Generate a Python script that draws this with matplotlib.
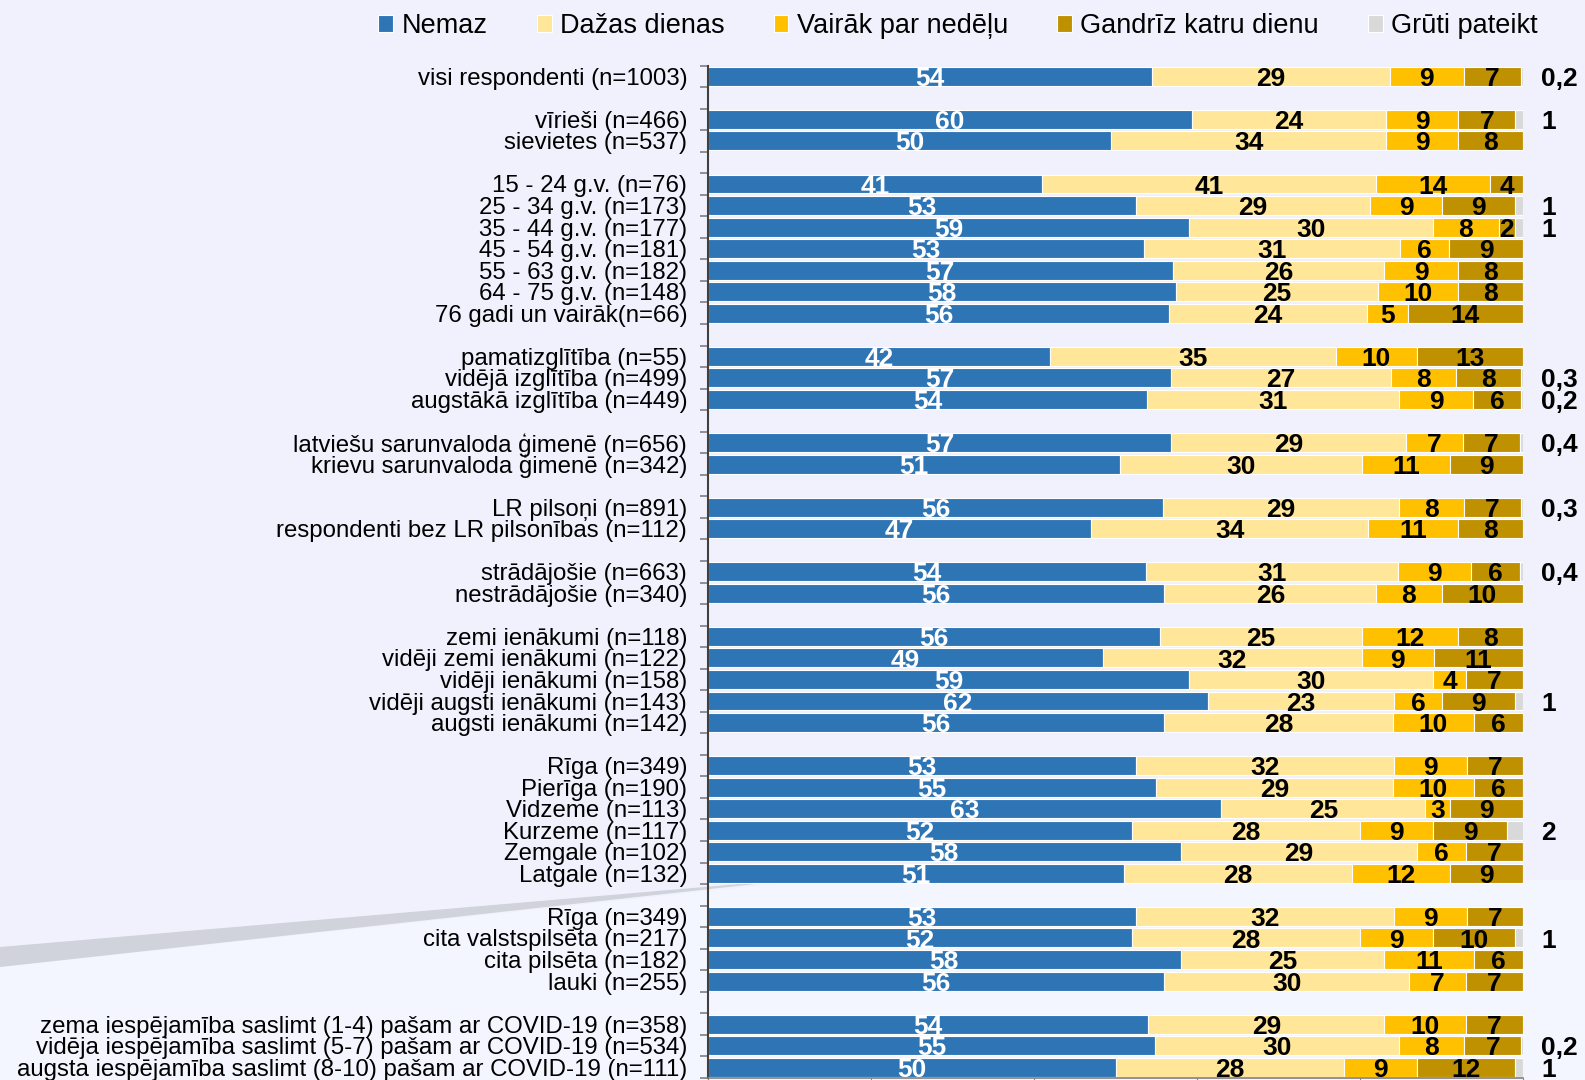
import matplotlib
matplotlib.use('Agg')
import matplotlib.pyplot as plt
import numpy as np
from matplotlib.patches import Polygon

plt.rcParams['font.family'] = ['Liberation Sans', 'DejaVu Sans']

# ---------------- data ----------------
series_names = ["Nemaz", "Dažas dienas", "Vairāk par nedēļu", "Gandrīz katru dienu", "Grūti pateikt"]
series_colors = ["#2e75b6", "#ffe699", "#ffc000", "#bf9000", "#d9d9d9"]

categories = [
    "visi respondenti (n=1003)",
    "vīrieši (n=466)", "sievietes (n=537)",
    "15 - 24 g.v. (n=76)", "25 - 34 g.v. (n=173)", "35 - 44 g.v. (n=177)",
    "45 - 54 g.v. (n=181)", "55 - 63 g.v. (n=182)", "64 - 75 g.v. (n=148)",
    "76 gadi un vairāk(n=66)",
    "pamatizglītība (n=55)", "vidējā izglītība (n=499)", "augstākā izglītība (n=449)",
    "latviešu sarunvaloda ģimenē (n=656)", "krievu sarunvaloda ģimenē (n=342)",
    "LR pilsoņi (n=891)", "respondenti bez LR pilsonības (n=112)",
    "strādājošie (n=663)", "nestrādājošie (n=340)",
    "zemi ienākumi (n=118)", "vidēji zemi ienākumi (n=122)", "vidēji ienākumi (n=158)",
    "vidēji augsti ienākumi (n=143)", "augsti ienākumi (n=142)",
    "Rīga (n=349)", "Pierīga (n=190)", "Vidzeme (n=113)", "Kurzeme (n=117)",
    "Zemgale (n=102)", "Latgale (n=132)",
    "Rīga (n=349)", "cita valstspilsēta (n=217)", "cita pilsēta (n=182)", "lauki (n=255)",
    "zema iespējamība saslimt (1-4) pašam ar COVID-19 (n=358)",
    "vidēja iespējamība saslimt (5-7) pašam ar COVID-19 (n=534)",
    "augsta iespējamība saslimt (8-10) pašam ar COVID-19 (n=111)",
]
group_sizes = [1, 2, 7, 3, 2, 2, 2, 5, 6, 4, 3]

nemaz = [54, 60, 50, 41, 53, 59, 53, 57, 58, 56, 42, 57, 54, 57, 51, 56, 47, 54, 56,
         56, 49, 59, 62, 56, 53, 55, 63, 52, 58, 51, 53, 52, 58, 56, 54, 55, 50]
dazas = [29, 24, 34, 41, 29, 30, 31, 26, 25, 24, 35, 27, 31, 29, 30, 29, 34, 31, 26,
         25, 32, 30, 23, 28, 32, 29, 25, 28, 29, 28, 32, 28, 25, 30, 29, 30, 28]
vairak = [9, 9, 9, 14, 9, 8, 6, 9, 10, 5, 10, 8, 9, 7, 11, 8, 11, 9, 8,
          12, 9, 4, 6, 10, 9, 10, 3, 9, 6, 12, 9, 9, 11, 7, 10, 8, 9]
gandriz = [7, 7, 8, 4, 9, 2, 9, 8, 8, 14, 13, 8, 6, 7, 9, 7, 8, 6, 10,
           8, 11, 7, 9, 6, 7, 6, 9, 9, 7, 9, 7, 10, 6, 7, 7, 7, 12]
gruti = [0.2, 1, 0, 0, 1, 1, 0, 0, 0, 0, 0, 0.3, 0.2, 0.4, 0, 0.3, 0, 0.4, 0,
         0, 0, 0, 1, 0, 0, 0, 0, 2, 0, 0, 0, 1, 0, 0, 0, 0.2, 1]

# ---------------- figure ----------------
W, H = 1585, 1080
fig = plt.figure(figsize=(W / 100, H / 100), dpi=100)
fig.patch.set_facecolor('#f0f1fc')

bg = fig.add_axes([0, 0, 1, 1], zorder=-10)
bg.set_xlim(0, W)
bg.set_ylim(H, 0)
bg.axis('off')
bg.add_patch(Polygon([(0, 967), (810, 880), (W, 880), (W, H), (0, H)], color='#f3f6fe', lw=0))
bg.add_patch(Polygon([(0, 947), (810, 878), (0, 967)], color='#d0d3db', lw=0))

ax = fig.add_axes([708 / W, 2 / H, 815 / W, (1078 - 65.5) / H])
ax.patch.set_alpha(0)

# row positions with a blank row after each group
pos = []
r = 0
for g in group_sizes:
    for _ in range(g):
        pos.append(r)
        r += 1
    r += 1
pos = np.array(pos)
last = pos[-1]

data = np.array([nemaz, dazas, vairak, gandriz, gruti], dtype=float)
shares = data / data.sum(axis=0) * 100

left = np.zeros(len(categories))
handles = []
for i in range(5):
    h = ax.barh(pos, shares[i], left=left, height=0.88, color=series_colors[i],
                edgecolor='white', linewidth=0.8, label=series_names[i])
    handles.append(h)
    if i < 4:
        for y, l, w, v in zip(pos, left, shares[i], data[i]):
            if v > 0:
                ax.text(l + w / 2, y + 0.12, f"{int(v)}", ha='center', va='center',
                        fontsize=19, fontweight='bold',
                        color='white' if i == 0 else 'black')
    left = left + shares[i]

for y, v in zip(pos, gruti):
    if v > 0:
        s = f"{int(v)}" if float(v).is_integer() else f"{v}".replace('.', ',')
        ax.text(102.2, y + 0.12, s, ha='left', va='center', fontsize=19,
                fontweight='bold', color='black', clip_on=False)

ax.set_xlim(0, 100)
ax.set_ylim(last + 0.5, -0.5)
ax.set_yticks(pos)
ax.set_yticklabels(categories, fontsize=17.3)
ax.set_yticks(np.arange(-0.5, last + 1, 1), minor=True)
ax.tick_params(axis='y', which='major', length=0, pad=15)
ax.tick_params(axis='y', which='minor', length=6, color='#808080', width=1.2)
ax.set_xticks(range(0, 101, 20))
ax.tick_params(axis='x', length=8, color='#808080', labelbottom=False)
for s in ['top', 'right']:
    ax.spines[s].set_visible(False)
ax.spines['left'].set_color('#404040')
ax.spines['left'].set_linewidth(1.5)
ax.spines['bottom'].set_color('#808080')
ax.spines['bottom'].set_linewidth(1.2)

fig.legend(handles, series_names, loc='center', bbox_to_anchor=(958 / W, 1 - 26 / H),
           ncol=5, frameon=False, fontsize=19.5, handlelength=0.55, handleheight=0.55,
           handletextpad=0.3, columnspacing=1.82)

fig.savefig('out.png', dpi=100, facecolor=fig.get_facecolor())
